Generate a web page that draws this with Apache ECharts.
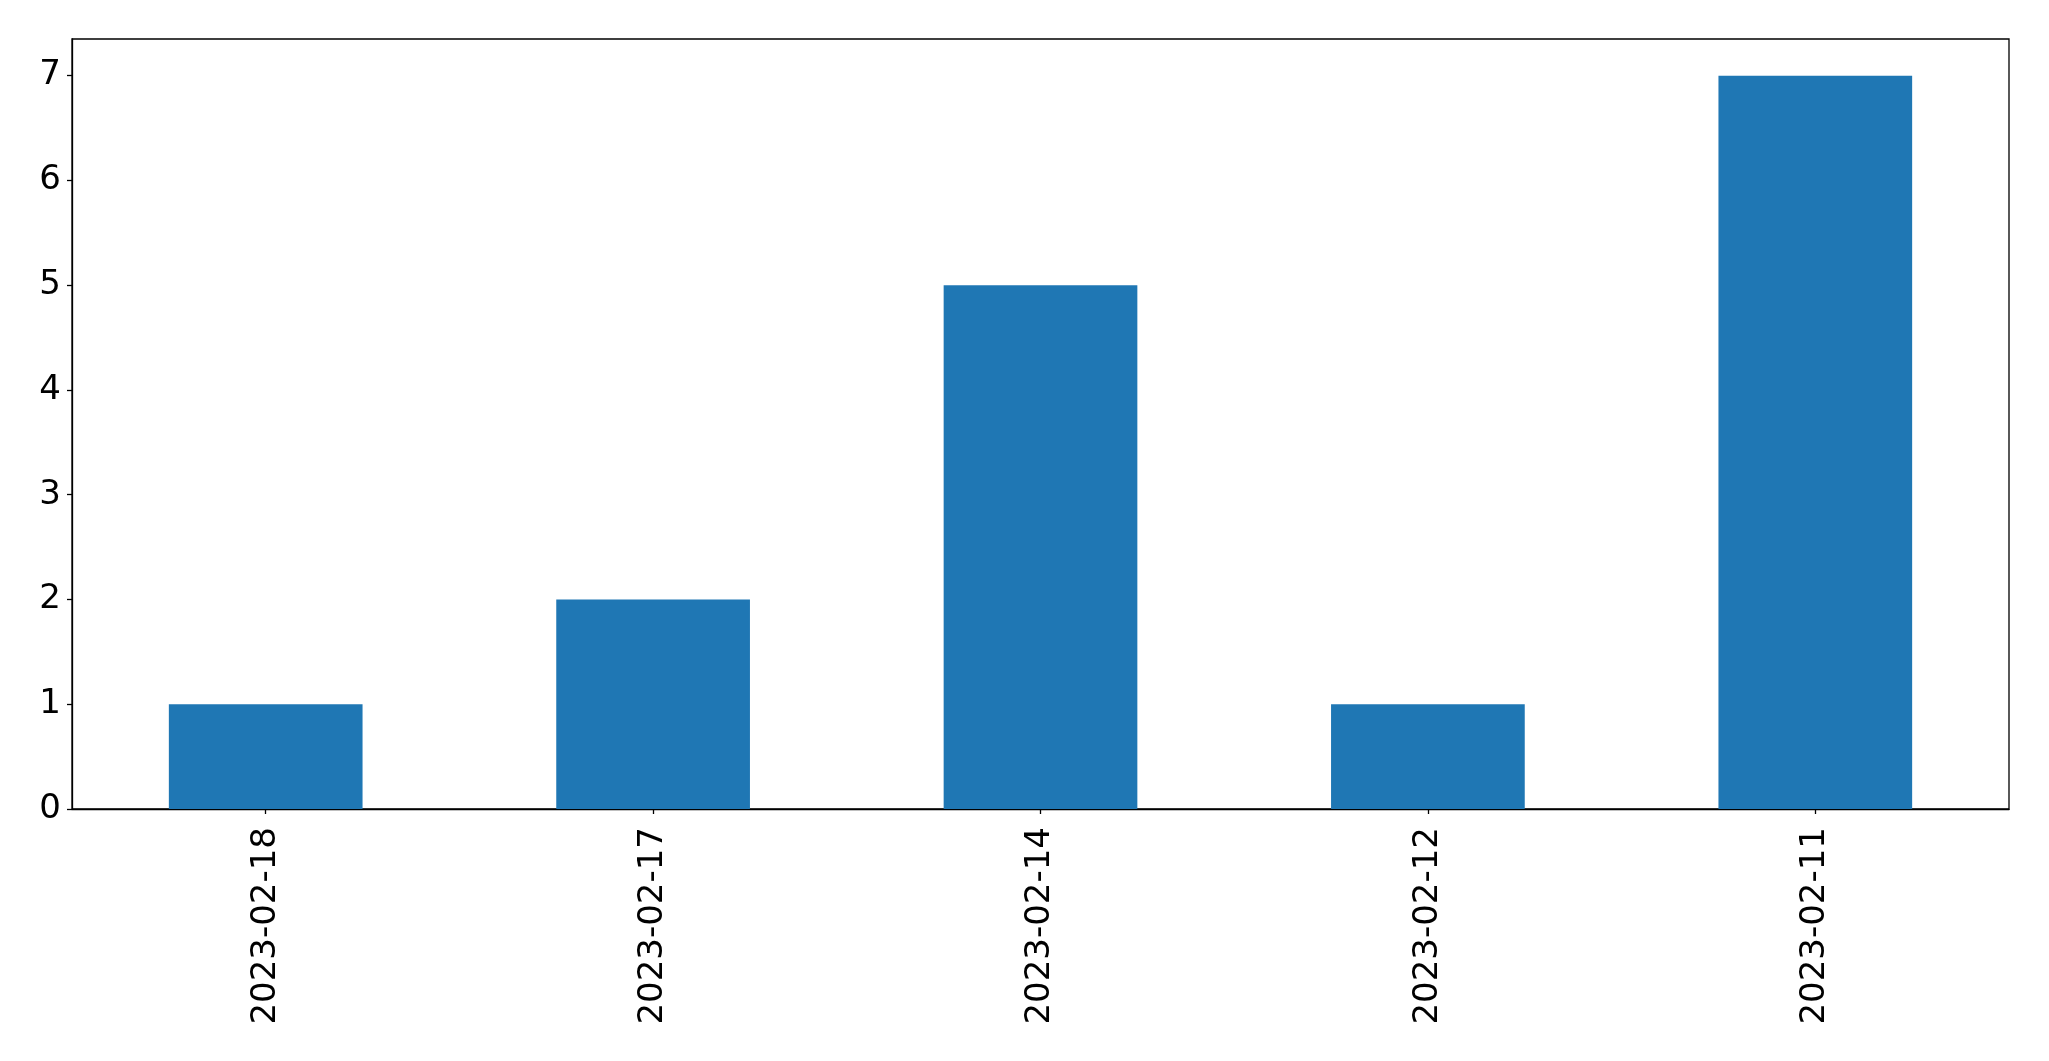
<!DOCTYPE html>
<html><head><meta charset="utf-8">
<script src="https://cdn.jsdelivr.net/npm/echarts@6/dist/echarts.min.js"></script>
<style>html,body{margin:0;padding:0;background:#fff}#c{width:2049px;height:1061px}</style>
</head><body><div id="c"></div>
<script>
const categories = ['2023-02-18','2023-02-17','2023-02-14','2023-02-12','2023-02-11'];
const values = [1, 2, 5, 1, 7];
const yTicks = [0, 1, 2, 3, 4, 5, 6, 7];
const yMax = 7.35;

const chart = echarts.init(document.getElementById('c'), null, {renderer: 'canvas'});
const font = 'DejaVu Sans';
chart.setOption({
  animation: false,
  backgroundColor: '#ffffff',
  grid: {left: 72, right: 40, top: 39, bottom: 252, show: true, borderColor: '#000', borderWidth: 1.3, backgroundColor: 'transparent'},
  xAxis: {
    type: 'category',
    data: categories,
    axisLine: {show: true, lineStyle: {color: '#000', width: 1.3}},
    axisTick: {show: true, alignWithLabel: true, length: 5, lineStyle: {color: '#000', width: 1.3}},
    axisLabel: {rotate: 90, margin: 18, fontSize: 34, fontFamily: font, color: '#000', interval: 0},
    splitLine: {show: false}
  },
  yAxis: {
    type: 'value',
    min: 0, max: yMax,
    axisLine: {show: true, lineStyle: {color: '#000', width: 1.3}},
    axisTick: {show: true, length: 5, lineStyle: {color: '#000', width: 1.3}, customValues: yTicks},
    axisLabel: {margin: 11, fontSize: 34, fontFamily: font, color: '#000', customValues: yTicks},
    splitLine: {show: false}
  },
  series: [{
    type: 'bar',
    data: values,
    barWidth: '50%',
    itemStyle: {color: '#1f77b4'}
  }]
});
</script></body></html>
